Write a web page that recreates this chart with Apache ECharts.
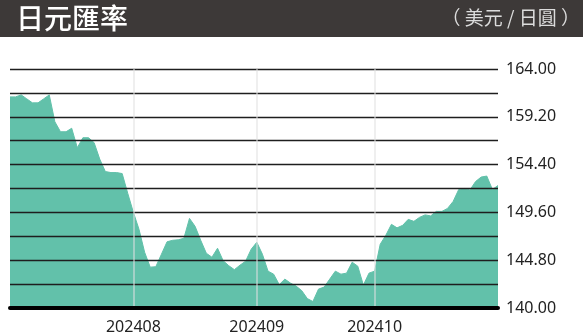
<!DOCTYPE html>
<html>
<head>
<meta charset="utf-8">
<script src="https://cdn.jsdelivr.net/npm/echarts@6/dist/echarts.min.js"></script>
<style>
html,body{margin:0;padding:0;background:#fff;}
#c{width:583px;height:335px;}
</style>
</head>
<body>
<div id="c"></div>
<script>
// Trading days (categories)
var dates = [
 '2024-07-02','2024-07-03','2024-07-04','2024-07-05',
 '2024-07-08','2024-07-09','2024-07-10','2024-07-11','2024-07-12',
 '2024-07-15','2024-07-16','2024-07-17','2024-07-18','2024-07-19',
 '2024-07-22','2024-07-23','2024-07-24','2024-07-25','2024-07-26',
 '2024-07-29','2024-07-30','2024-07-31',
 '2024-08-01','2024-08-02',
 '2024-08-05','2024-08-06','2024-08-07','2024-08-08','2024-08-09',
 '2024-08-12','2024-08-13','2024-08-14','2024-08-15','2024-08-16',
 '2024-08-19','2024-08-20','2024-08-21','2024-08-22','2024-08-23',
 '2024-08-26','2024-08-27','2024-08-28','2024-08-29','2024-08-30',
 '2024-09-02','2024-09-03','2024-09-04','2024-09-05','2024-09-06',
 '2024-09-09','2024-09-10','2024-09-11','2024-09-12','2024-09-13',
 '2024-09-16','2024-09-17','2024-09-18','2024-09-19','2024-09-20',
 '2024-09-23','2024-09-24','2024-09-25','2024-09-26','2024-09-27',
 '2024-09-30',
 '2024-10-01','2024-10-02','2024-10-03','2024-10-04',
 '2024-10-07','2024-10-08','2024-10-09','2024-10-10','2024-10-11',
 '2024-10-14','2024-10-15','2024-10-16','2024-10-17','2024-10-18',
 '2024-10-21','2024-10-22','2024-10-23','2024-10-24','2024-10-25',
 '2024-10-28','2024-10-29','2024-10-30','2024-10-31'
];
// USD/JPY values
var rates = [
 161.2,161.2,161.4,161.0,160.6,160.6,161.0,161.4,158.7,157.7,
 157.7,158.05,156.1,157.1,157.1,156.6,154.95,153.7,153.6,153.6,
 153.5,151.5,149.6,147.9,145.6,144.1,144.15,145.4,146.65,146.8,
 146.85,147.0,149.0,148.2,146.8,145.5,145.1,146.0,144.75,144.25,
 143.85,144.3,144.7,145.9,146.6,145.4,143.7,143.4,142.35,142.9,
 142.5,142.2,141.75,140.95,140.65,141.9,142.1,142.9,143.7,143.4,
 143.5,144.6,144.2,142.3,143.5,143.7,146.4,147.3,148.4,148.05,
 148.3,148.9,148.7,149.1,149.35,149.25,149.7,149.7,150.0,150.7,
 151.9,152.0,151.85,152.7,153.15,153.25,151.9,152.3
];
var gridValues = [140,142.4,144.8,147.2,149.6,152,154.4,156.8,159.2,161.6,164];
var labelValues = [140,144.8,149.6,154.4,159.2,164];
var titleText = '日元匯率';
var unitText = '（ 美元 / 日圓 ）';

function isMonthStart(idx, val){
  if (idx === 0) return false;
  return dates[idx].slice(5,7) !== dates[idx-1].slice(5,7);
}

var chart = echarts.init(document.getElementById('c'), null, {renderer:'canvas'});
chart.setOption({
  animation:false,
  backgroundColor:'#ffffff',
  graphic:[
    {type:'rect', left:0, top:0, shape:{width:583, height:37}, style:{fill:'#3d3938'}, z:10},
    {type:'text', left:16, top:4, style:{text:titleText, fill:'#ffffff', font:'500 28px "Noto Sans CJK TC"'}, z:11},
    {type:'text', right:3, top:8, style:{text:unitText, fill:'#dcdcdc', font:'19px "Noto Sans CJK TC"'}, z:11}
  ],
  grid:{left:10, right:85, top:69, bottom:27, outerBoundsMode:'none'},
  xAxis:{
    type:'category', data:dates, boundaryGap:false, z:5,
    axisLine:{show:true, lineStyle:{color:'#000', width:4}},
    axisTick:{show:false},
    axisLabel:{interval:isMonthStart, margin:11, color:'#222', fontSize:16, fontFamily:'"Noto Sans"',
      formatter:function(v){return v.slice(0,4)+v.slice(5,7);}},
    splitLine:{show:true, interval:isMonthStart, lineStyle:{color:'rgba(225,225,225,0.7)', width:1.5}}
  },
  yAxis:{
    type:'value', position:'right', min:140, max:164, z:4,
    axisLine:{show:false},
    axisTick:{show:false, customValues:gridValues},
    axisLabel:{customValues:labelValues, margin:8, color:'#222', fontSize:16, fontFamily:'"Noto Sans"',
      formatter:function(v){return v.toFixed(2);}},
    splitLine:{show:true, lineStyle:{color:'#1e1e1e', width:1.3}}
  },
  series:[{
    type:'line', data:rates, symbol:'none', smooth:false,
    lineStyle:{color:'#62c1aa', width:1},
    areaStyle:{color:'#62c1aa', opacity:1}
  }]
});
</script>
</body>
</html>
